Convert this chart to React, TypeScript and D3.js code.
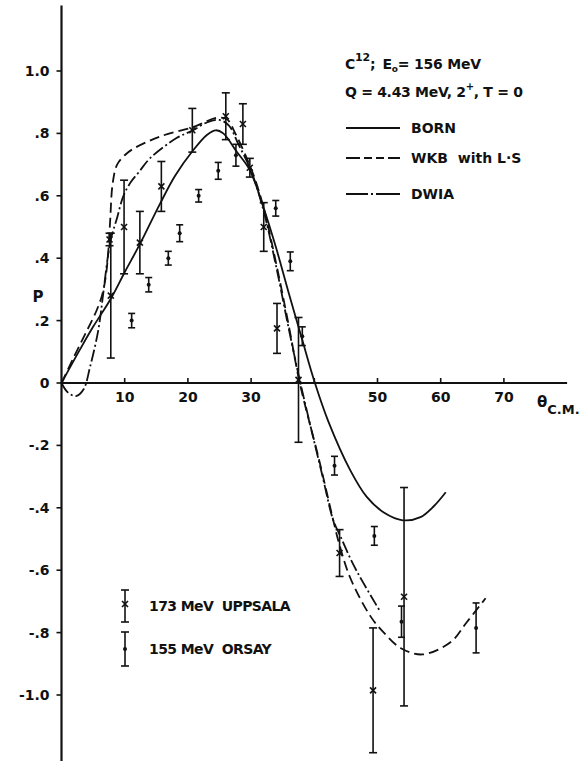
import React from 'react';
import * as d3 from 'd3';

// ---- axis ticks ----
const yTickValues = [1.0, 0.8, 0.6, 0.4, 0.2, 0, -0.2, -0.4, -0.6, -0.8, -1.0];
const yTickLabels = ['1.0', '.8', '.6', '.4', '.2', '0', '-.2', '-.4', '-.6', '-.8', '-1.0'];
const xTickValues = [10, 20, 30, 40, 50, 60, 70];
const xTickLabels = ['10', '20', '30', '', '50', '60', '70'];

// ---- data: 173 MeV Uppsala ----
const uppTheta = [7.6, 7.8, 9.9, 12.4, 15.8, 20.7, 26.0, 28.7, 29.8, 32.0, 34.1, 37.5, 44.0, 49.3, 54.2];
const uppP = [0.46, 0.28, 0.50, 0.45, 0.63, 0.81, 0.855, 0.83, 0.69, 0.50, 0.175, 0.01, -0.545, -0.985, -0.685];
const uppErr = [0.02, 0.2, 0.15, 0.10, 0.08, 0.07, 0.075, 0.065, 0.03, 0.078, 0.08, 0.2, 0.075, 0.2, 0.35];

// ---- data: 155 MeV Orsay ----
const orsTheta = [11.1, 13.8, 16.9, 18.7, 21.7, 24.8, 27.6, 33.9, 36.2, 38.1, 43.2, 49.5, 53.8, 65.6];
const orsP = [0.20, 0.315, 0.40, 0.48, 0.60, 0.68, 0.73, 0.56, 0.39, 0.15, -0.265, -0.49, -0.765, -0.785];
const orsErr = [0.023, 0.023, 0.022, 0.027, 0.02, 0.027, 0.035, 0.025, 0.03, 0.03, 0.03, 0.03, 0.05, 0.08];

// ---- curves ----
const bornTheta = [0, 3, 5, 7.8, 10, 12.4, 15.6, 18, 20.8, 23, 24.4, 25.6, 27.7, 29.8, 32, 34, 36, 38, 40.1, 42.2, 45.7, 48.3, 51, 54, 56.8, 58.9, 60.8];
const bornP = [0, 0.11, 0.18, 0.27, 0.355, 0.445, 0.575, 0.665, 0.745, 0.795, 0.81, 0.80, 0.742, 0.682, 0.56, 0.43, 0.285, 0.145, 0, -0.122, -0.28, -0.365, -0.415, -0.44, -0.43, -0.395, -0.35];

const wkbTheta = [0, 2, 4, 5.5, 6.4, 7.0, 7.4, 7.7, 8.1, 8.8, 10, 11.3, 15.6, 20.8, 24.6, 26.2, 27.5, 29, 30.5, 32, 34, 36, 37.7, 40.8, 43, 44, 45.7, 48.9, 51, 53.7, 57.1, 61.6, 64, 67.1];
const wkbP = [0, 0.085, 0.167, 0.23, 0.28, 0.34, 0.42, 0.52, 0.64, 0.70, 0.73, 0.75, 0.79, 0.82, 0.85, 0.845, 0.80, 0.735, 0.66, 0.56, 0.38, 0.18, 0, -0.25, -0.44, -0.52, -0.625, -0.748, -0.80, -0.85, -0.87, -0.83, -0.77, -0.69];

const dwiaTheta = [0, 1, 2.3, 3.5, 4.5, 5.8, 6.5, 7.3, 7.8, 8.8, 9.8, 11, 12.2, 14, 18.2, 20.8, 23, 25, 26.5, 28, 30, 32, 34, 36, 37.8, 41.2, 43, 44.1, 46, 47.6, 50.5];
const dwiaP = [0, -0.03, -0.042, -0.02, 0.05, 0.167, 0.27, 0.40, 0.46, 0.53, 0.60, 0.645, 0.675, 0.72, 0.785, 0.81, 0.835, 0.843, 0.825, 0.765, 0.68, 0.55, 0.37, 0.17, 0, -0.29, -0.44, -0.49, -0.575, -0.635, -0.735];

const W = 583;
const H = 761;
const FONT = '"DejaVu Sans", sans-serif';

export default function App() {
  const x = d3.scaleLinear().domain([0, 80]).range([61.5, 61.5 + 6.32 * 80]);
  const y = d3.scaleLinear().domain([-1, 1]).range([383 + 312, 383 - 312]);

  const line = d3
    .line<[number, number]>()
    .x((d) => x(d[0]))
    .y((d) => y(d[1]))
    .curve(d3.curveCatmullRom.alpha(0.5));

  const zip = (a: number[], b: number[]) => a.map((v, i) => [v, b[i]] as [number, number]);

  const stroke = '#111';
  const pre = { whiteSpace: 'pre' as const };

  return (
    <svg
      width={W}
      height={H}
      style={{ position: 'absolute', left: 0, top: 0, background: '#fff' }}
      fontFamily={FONT}
    >
      <rect x={0} y={0} width={W} height={H} fill="#fff" />
      {/* axes */}
      <line x1={x(0)} x2={x(0)} y1={y(1.21)} y2={y(-1.22)} stroke={stroke} strokeWidth={2.2} />
      <line x1={x(0)} x2={x(80)} y1={y(0)} y2={y(0)} stroke={stroke} strokeWidth={2} />

      {yTickValues.map((v, i) => (
        <g key={'yt' + i}>
          <line x1={x(0) - 5} x2={x(0)} y1={y(v)} y2={y(v)} stroke={stroke} strokeWidth={1.6} />
          <text x={x(0) - 12} y={y(v) + 5} textAnchor="end" fontSize={14} fontWeight="bold" fill={stroke}>
            {yTickLabels[i]}
          </text>
        </g>
      ))}
      {xTickValues.map((v, i) => (
        <g key={'xt' + i}>
          <line x1={x(v)} x2={x(v)} y1={y(0)} y2={y(0) - 5} stroke={stroke} strokeWidth={1.6} />
          <text x={x(v)} y={y(0) + 19} textAnchor="middle" fontSize={14} fontWeight="bold" fill={stroke}>
            {xTickLabels[i]}
          </text>
        </g>
      ))}

      {/* axis titles */}
      <text x={38} y={302} textAnchor="middle" fontSize={15} fontWeight="bold" fill={stroke}>
        P
      </text>
      <text x={537} y={407} fontSize={15} fontWeight="bold" fill={stroke}>
        θ
        <tspan dy={7} fontSize={13}>
          C.M.
        </tspan>
      </text>

      {/* curves */}
      <path d={line(zip(bornTheta, bornP)) || ''} fill="none" stroke={stroke} strokeWidth={1.8} />
      <path d={line(zip(wkbTheta, wkbP)) || ''} fill="none" stroke={stroke} strokeWidth={1.8} strokeDasharray="10 5" />
      <path d={line(zip(dwiaTheta, dwiaP)) || ''} fill="none" stroke={stroke} strokeWidth={1.8} strokeDasharray="12 3 2 3" />

      {/* Uppsala points */}
      {uppTheta.map((t, i) => {
        const cx = x(t);
        const cy = y(uppP[i]);
        const y1 = y(uppP[i] + uppErr[i]);
        const y2 = y(uppP[i] - uppErr[i]);
        return (
          <g key={'u' + i} stroke={stroke} strokeWidth={1.6}>
            <line x1={cx} x2={cx} y1={y1} y2={y2} />
            <line x1={cx - 4} x2={cx + 4} y1={y1} y2={y1} />
            <line x1={cx - 4} x2={cx + 4} y1={y2} y2={y2} />
            <line x1={cx - 3} x2={cx + 3} y1={cy - 3} y2={cy + 3} />
            <line x1={cx - 3} x2={cx + 3} y1={cy + 3} y2={cy - 3} />
          </g>
        );
      })}

      {/* Orsay points */}
      {orsTheta.map((t, i) => {
        const cx = x(t);
        const cy = y(orsP[i]);
        const y1 = y(orsP[i] + orsErr[i]);
        const y2 = y(orsP[i] - orsErr[i]);
        return (
          <g key={'o' + i} stroke={stroke} strokeWidth={1.6}>
            <line x1={cx} x2={cx} y1={y1} y2={y2} />
            <line x1={cx - 3.5} x2={cx + 3.5} y1={y1} y2={y1} />
            <line x1={cx - 3.5} x2={cx + 3.5} y1={y2} y2={y2} />
            <circle cx={cx} cy={cy} r={2} fill={stroke} stroke="none" />
          </g>
        );
      })}

      {/* top-right annotation */}
      <text x={345} y={69} fontSize={14} fontWeight="bold" fill={stroke} letterSpacing={-0.2} style={pre}>
        C
        <tspan dy={-8} fontSize={11}>12</tspan>
        <tspan dy={8}>;</tspan>
        <tspan dx={7}>E</tspan>
        <tspan dy={3} fontSize={9}>o</tspan>
        <tspan dy={-3}>= 156 MeV</tspan>
      </text>
      <text x={345} y={97} fontSize={14} fontWeight="bold" fill={stroke} letterSpacing={-0.3} style={pre}>
        Q = 4.43 MeV, 2
        <tspan dy={-7} fontSize={10}>+</tspan>
        <tspan dy={7}>, T = 0</tspan>
      </text>

      {/* legend */}
      <line x1={346} x2={400} y1={128} y2={128} stroke={stroke} strokeWidth={1.8} />
      <text x={411} y={133} fontSize={14} fontWeight="bold" fill={stroke}>BORN</text>
      <line x1={346} x2={400} y1={158} y2={158} stroke={stroke} strokeWidth={1.8} strokeDasharray="14 4 8 4 8 4 12" />
      <text x={411} y={163} fontSize={14} fontWeight="bold" fill={stroke} style={pre}>WKB  with L·S</text>
      <line x1={346} x2={400} y1={194} y2={194} stroke={stroke} strokeWidth={1.8} strokeDasharray="22 3 2 3 30" />
      <text x={411} y={199} fontSize={14} fontWeight="bold" fill={stroke}>DWIA</text>

      {/* bottom-left legend */}
      <g stroke={stroke} strokeWidth={1.6}>
        <line x1={125} x2={125} y1={590} y2={622} />
        <line x1={121} x2={129} y1={590} y2={590} />
        <line x1={121} x2={129} y1={622} y2={622} />
        <line x1={122} x2={128} y1={601} y2={607} />
        <line x1={122} x2={128} y1={607} y2={601} />
        <line x1={125} x2={125} y1={632} y2={666} />
        <line x1={121} x2={129} y1={632} y2={632} />
        <line x1={121} x2={129} y1={666} y2={666} />
        <circle cx={125} cy={649} r={2} fill={stroke} stroke="none" />
      </g>
      <text x={149} y={611} fontSize={14} fontWeight="bold" fill={stroke} letterSpacing={-0.6} style={pre}>
        173 MeV  UPPSALA
      </text>
      <text x={149} y={654} fontSize={14} fontWeight="bold" fill={stroke} letterSpacing={-0.6} style={pre}>
        155 MeV  ORSAY
      </text>
    </svg>
  );
}
